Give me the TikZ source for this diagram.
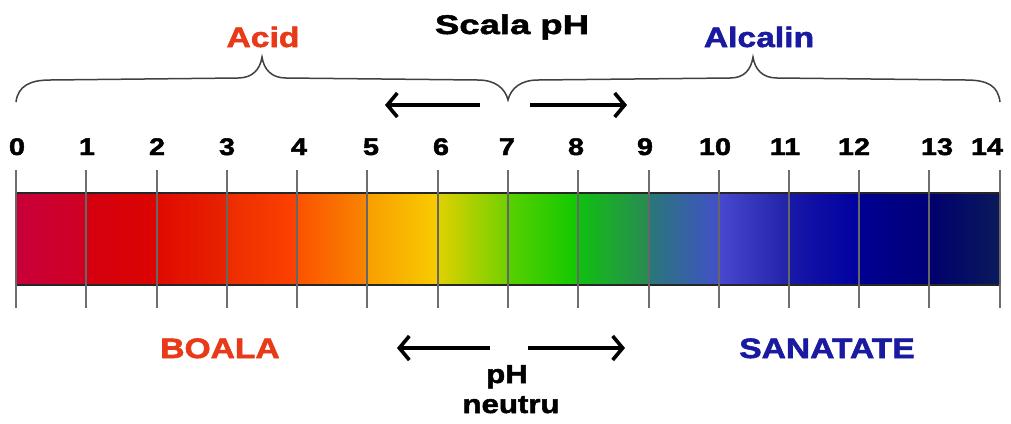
\documentclass[tikz,border=0pt]{standalone}
\usepackage{fontspec}
\usetikzlibrary{arrows.meta}
\newfontfamily\labA[FakeStretch=1.2,FakeBold=2]{Liberation Sans Bold}
\newfontfamily\labB[FakeStretch=1.35,FakeBold=2]{Liberation Sans Bold}
\definecolor{acidred}{HTML}{E83A18}
\definecolor{alkblue}{HTML}{1A1AA0}
\definecolor{tickgray}{HTML}{6E6E6E}
\begin{document}
\begin{tikzpicture}[x=1bp,y=-1bp,
  lbl/.style={inner sep=0pt,anchor=base,font=\labA\fontsize{24bp}{26bp}\selectfont},
  big/.style={inner sep=0pt,anchor=base,font=\labA\fontsize{28bp}{30bp}\selectfont},
  tickline/.style={draw=tickgray,line width=1.8bp},
  arr/.style={line width=3.6bp,-{Straight Barb[length=10bp,width=24bp,line width=3.6bp]}},
  bracepath/.style={draw=black!75,line width=1.5bp}]
\useasboundingbox[fill=white] (0,0) rectangle (1011,423);
% colour bar
\def\segs{16/86/C8003A/D00022,86/157/D40010/DC0400,157/227/E00A00/E82400,227/297/EC2C00/FC4200,297/367/FC5200/F88600,367/438/F89E00/F8CC00,438/508/E0D000/70D000,508/578/58D000/10C800,578/649/10C010/2A8A55,649/719/287878/4250C8,719/789/4848D0/2222A8,789/859/1818A8/0000A0,859/929/000092/000078,929/1000/00006E/0A1A5A}
\foreach \a/\b/\c/\d in \segs {
  \definecolor{cl}{HTML}{\c}\definecolor{cr}{HTML}{\d}
  \shade[left color=cl,right color=cr] (\a,193) rectangle (\b+0.3,285);
}
\draw[line width=1.6bp,black!85] (16,193) -- (1000,193) (16,285) -- (1000,285);
% ticks
\foreach \x in {16,86,157,227,297,367,438,508,578,649,719,789,859,929,1000}{
  \draw[tickline] (\x,170) -- (\x,308);
  \draw[draw=black!60,line width=1.8bp] (\x,193) -- (\x,285);
}
% numbers
\foreach \n/\x in {0/17,1/87,2/157,3/227,4/299,5/371,6/441,7/507,8/576,9/645,10/715,11/785,12/854,13/937,14/987}
  \node[lbl] (n\n) at (\x,155) {\n};
% titles
\node[big,text=acidred] (acid) at (263,47) {Acid};
\node[inner sep=0pt,anchor=base,font=\labB\fontsize{27bp}{29bp}\selectfont] (title) at (512,34) {Scala pH};
\node[big,text=alkblue] (alc) at (759,47) {Alcalin};
\node[big,text=acidred] (boala) at (220,358) {BOALA};
\node[big,text=alkblue] (san) at (827,358) {SANATATE};
\node[inner sep=0pt,anchor=base,font=\labA\fontsize{26bp}{28bp}\selectfont] (ph) at (507,383) {pH};
\node[inner sep=0pt,anchor=base,font=\labA\fontsize{26bp}{28bp}\selectfont] (neutru) at (511,413) {neutru};
% braces
\draw[bracepath] (16,102) .. controls (18,86) and (30,80) .. (50,80) -- (238,78)
  .. controls (252,78) and (260,70) .. (262,57) .. controls (264,70) and (272,78) .. (286,78)
  -- (478,80) .. controls (495,80) and (505,88) .. (508,100)
  .. controls (511,88) and (521,80) .. (538,80) -- (730,78)
  .. controls (744,78) and (751,70) .. (753,57) .. controls (755,70) and (763,78) .. (777,78)
  -- (966,80) .. controls (988,80) and (998,86) .. (1000,102);
% arrows
\coordinate (tl0) at (480,105); \coordinate (tl1) at (385,105);
\coordinate (tr0) at (530,105); \coordinate (tr1) at (627,105);
\coordinate (bl0) at (490,348); \coordinate (bl1) at (397,348);
\coordinate (br0) at (528,348); \coordinate (br1) at (625,348);
\draw[arr] (tl0) -- (tl1);
\draw[arr] (tr0) -- (tr1);
\draw[arr] (bl0) -- (bl1);
\draw[arr] (br0) -- (br1);
\end{tikzpicture}
\end{document}
